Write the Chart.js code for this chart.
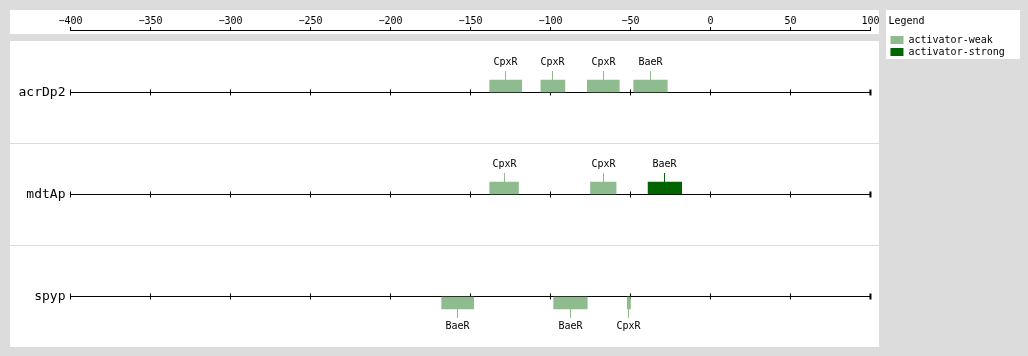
<!DOCTYPE html>
<html>
<head>
<meta charset="utf-8">
<title>Binding sites</title>
<script src="https://cdn.jsdelivr.net/npm/chart.js@4/dist/chart.umd.min.js"></script>
<style>
  html, body { margin: 0; padding: 0; background: #dcdcdc; }
  canvas { display: block; }
</style>
</head>
<body>
<canvas id="sitesChart" width="1028" height="356"></canvas>
<script>
// one track per promoter
const promoters = ['acrDp2', 'mdtAp', 'spyp'];
// positions relative to the start site
const positionTicks = [-400, -350, -300, -250, -200, -150, -100, -50, 0, 50, 100];

// binding sites
const sitePromoter = ['acrDp2', 'acrDp2', 'acrDp2', 'acrDp2', 'mdtAp', 'mdtAp', 'mdtAp', 'spyp', 'spyp', 'spyp'];
const siteFactor = ['CpxR', 'CpxR', 'CpxR', 'BaeR', 'CpxR', 'CpxR', 'BaeR', 'BaeR', 'BaeR', 'CpxR'];
const siteStart = [-138, -106, -77, -48, -138, -75, -39, -168, -98, -52];
const siteEnd = [-118, -91, -57, -27, -120, -59, -18, -148, -77, -50];
const siteStrand = ['+', '+', '+', '+', '+', '+', '+', '-', '-', '-'];
const siteEffect = ['activator-weak', 'activator-weak', 'activator-weak', 'activator-weak',
    'activator-weak', 'activator-weak', 'activator-strong',
    'activator-weak', 'activator-weak', 'activator-weak'];

const effects = ['activator-weak', 'activator-strong'];
const effectColors = ['#8fbc8f', '#006400'];

const FONT = "'DejaVu Sans Mono', monospace";
Chart.defaults.font.family = FONT;
Chart.defaults.color = '#000';

// boxes sit just above (+) or below (-) the track line
const boxShift = 6.5 / 102;

const siteSets = effects.map((eff, k) => ({
    type: 'bar',
    label: eff,
    indexAxis: 'y',
    grouped: false,
    order: 0,
    backgroundColor: effectColors[k],
    borderWidth: 0,
    borderSkipped: false,
    barThickness: 12,
    data: siteEffect.map((e, i) => e === eff ? i : -1).filter(i => i >= 0).map(i => ({
        x: [siteStart[i], siteEnd[i]],
        y: promoters.indexOf(sitePromoter[i]) + (siteStrand[i] === '+' ? -boxShift : boxShift),
        factor: siteFactor[i],
        strand: siteStrand[i]
    }))
}));

const trackSets = promoters.map((p, r) => ({
    type: 'line',
    label: p,
    order: 1,
    clip: false,
    borderColor: '#000',
    borderWidth: 1,
    pointStyle: 'line',
    rotation: 90,
    pointRadius: 3,
    pointBorderColor: '#000',
    pointBorderWidth: positionTicks.map((t, i) => i === positionTicks.length - 1 ? 2 : 1),
    data: positionTicks.map(t => ({ x: t, y: r }))
}));

const panels = {
    id: 'panels',
    beforeDraw(chart) {
        const { ctx, chartArea: a, scales: { y }, legend } = chart;
        ctx.save();
        ctx.fillStyle = '#dcdcdc';
        ctx.fillRect(0, 0, chart.width, chart.height);
        ctx.fillStyle = '#fff';
        const left = 10, right = Math.round(a.right + 9);
        ctx.fillRect(left, 10, right - left, Math.round(a.top) + 4 - 10);
        const top = Math.round(y.getPixelForValue(-0.5));
        ctx.fillRect(left, top, right - left, Math.floor(a.bottom) - top);
        ctx.fillStyle = '#dcdcdc';
        for (let i = 1; i < promoters.length; i++) {
            ctx.fillRect(left, Math.floor(y.getPixelForValue(i - 0.5)), right - left, 1);
        }
        ctx.fillStyle = '#fff';
        const lx = Math.round(legend.left - 2);
        ctx.fillRect(lx, 10, Math.round(legend.right + 5) - lx, 49);
        ctx.restore();
    }
};

const siteLabels = {
    id: 'siteLabels',
    afterDatasetsDraw(chart) {
        const ctx = chart.ctx;
        ctx.save();
        ctx.font = '10px ' + FONT;
        ctx.textAlign = 'center';
        ctx.textBaseline = 'alphabetic';
        ctx.lineWidth = 1;
        chart.data.datasets.forEach((ds, di) => {
            if (ds.type !== 'bar') return;
            chart.getDatasetMeta(di).data.forEach((bar, j) => {
                const site = ds.data[j];
                const { x, y, base, height } = bar.getProps(['x', 'y', 'base', 'height'], true);
                const cx = Math.floor((x + base) / 2) + 0.5;
                const up = site.strand === '+';
                const edge = up ? y - height / 2 : y + height / 2;
                const tip = up ? edge - 9 : edge + 9;
                ctx.strokeStyle = ds.backgroundColor;
                ctx.beginPath();
                ctx.moveTo(cx, edge);
                ctx.lineTo(cx, tip);
                ctx.stroke();
                ctx.fillStyle = '#000';
                ctx.fillText(site.factor, cx, up ? tip - 6 : tip + 11);
            });
        });
        ctx.restore();
    }
};

const config = {
    type: 'bar',
    data: { datasets: [...siteSets, ...trackSets] },
    options: {
        responsive: false,
        devicePixelRatio: 1,
        animation: false,
        events: [],
        layout: { padding: { top: 10, left: 0, right: 13.2, bottom: 8.5 } },
        scales: {
            x: {
                type: 'linear',
                position: 'top',
                offset: false,
                min: -400,
                max: 100,
                afterBuildTicks: s => { s.ticks = positionTicks.map(v => ({ value: v })); },
                afterFit: s => { s.height = 20; },
                ticks: {
                    padding: 0,
                    font: { size: 10 },
                    callback: v => String(v).replace('-', '\u2212')
                },
                grid: { display: true, offset: false, drawOnChartArea: false, tickLength: 3, color: '#000' },
                border: { display: true, color: '#000', width: 1 }
            },
            y: {
                type: 'linear',
                position: 'left',
                offset: false,
                reverse: true,
                min: -0.6127,
                max: 2.5,
                afterBuildTicks: s => { s.ticks = promoters.map((p, i) => ({ value: i })); },
                afterFit: s => {
                    s.width = 70.5;
                    s.paddingTop = 0;
                    s.paddingBottom = 0;
                },
                ticks: {
                    padding: 5,
                    font: { size: 13 },
                    callback: v => promoters[v]
                },
                grid: { display: false, offset: false, drawTicks: false },
                border: { display: false }
            },
            y2: {
                type: 'linear',
                position: 'right',
                offset: false,
                afterFit: s => {
                    s.width = 18;
                    s.paddingTop = 0;
                    s.paddingBottom = 0;
                },
                ticks: { display: false },
                grid: { display: false, drawTicks: false },
                border: { display: false }
            }
        },
        plugins: {
            tooltip: { enabled: false },
            legend: {
                position: 'right',
                align: 'start',
                title: {
                    display: true,
                    text: 'Legend',
                    position: 'start',
                    font: { size: 10 },
                    padding: { top: 6, bottom: 5 }
                },
                labels: {
                    boxWidth: 13,
                    boxHeight: 8,
                    padding: 2,
                    font: { size: 10 },
                    filter: item => item.datasetIndex < effects.length
                }
            }
        }
    },
    plugins: [panels, siteLabels]
};

// eslint-disable-next-line
const sitesChart = new Chart(document.getElementById('sitesChart'), config);
</script>
</body>
</html>
